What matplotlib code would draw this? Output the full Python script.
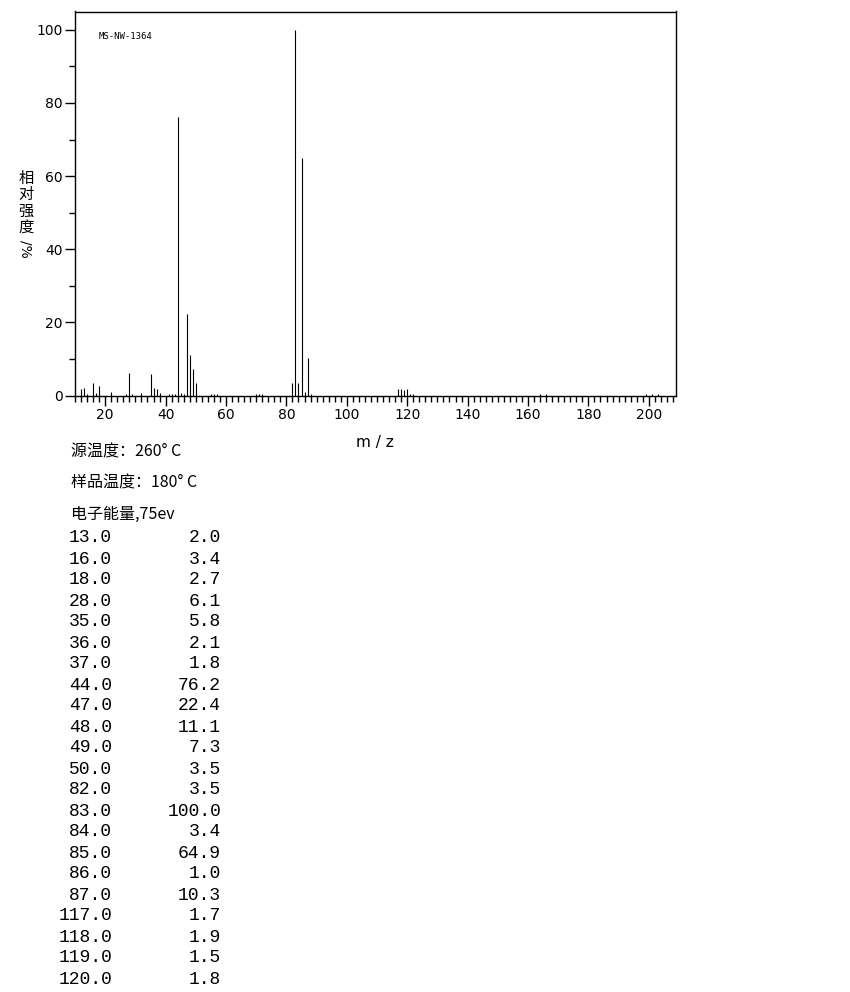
import matplotlib
matplotlib.use("Agg")
import matplotlib.pyplot as plt
from matplotlib.ticker import MultipleLocator

# peaks (m/z, relative intensity %)
mz = [12, 13, 14, 16, 17, 18, 22, 27, 28, 29, 32, 35, 36, 37, 38, 41, 42, 43,
      44, 45, 46, 47, 48, 49, 50, 55, 56, 57, 70, 71, 72, 82, 83, 84, 85, 86,
      87, 88, 117, 118, 119, 120, 121, 122, 164, 166, 199, 201, 203]
intensity = [1.9, 2.0, 0.4, 3.4, 0.6, 2.7, 0.9, 0.3, 6.1, 0.3, 0.6, 5.8, 2.1,
             1.8, 0.8, 0.3, 0.3, 0.3, 76.2, 0.8, 0.3, 22.4, 11.1, 7.3, 3.5,
             0.3, 0.3, 0.3, 0.5, 0.3, 0.3, 3.5, 100.0, 3.4, 64.9, 1.0, 10.3,
             0.3, 1.7, 1.9, 1.5, 1.8, 0.5, 0.5, 0.3, 0.3, 0.3, 0.3, 0.3]

# listed peak table
table_mz = ["13.0", "16.0", "18.0", "28.0", "35.0", "36.0", "37.0", "44.0",
            "47.0", "48.0", "49.0", "50.0", "82.0", "83.0", "84.0", "85.0",
            "86.0", "87.0", "117.0", "118.0", "119.0", "120.0"]
table_int = ["2.0", "3.4", "2.7", "6.1", "5.8", "2.1", "1.8", "76.2", "22.4",
             "11.1", "7.3", "3.5", "3.5", "100.0", "3.4", "64.9", "1.0", "10.3",
             "1.7", "1.9", "1.5", "1.8"]

header_lines = ["源温度：260° C", "样品温度：180° C", "电子能量,75ev"]
sample_id = "MS-NW-1364"

W, H = 850, 992
fig = plt.figure(figsize=(W / 100, H / 100), dpi=100)
fig.patch.set_facecolor("white")

def px(x, y):
    return x / W, 1 - y / H

ax_left, ax_right, ax_top, ax_bottom = 75, 676, 11.5, 395.5
ax = fig.add_axes([ax_left / W, 1 - ax_bottom / H,
                   (ax_right - ax_left) / W, (ax_bottom - ax_top) / H])

ax.vlines(mz, 0, intensity, colors="black", linewidth=0.8)

ax.set_xlim(10, 209)
ax.set_ylim(0, 105)
for s in ax.spines.values():
    s.set_linewidth(1.0)
    s.set_color("black")

ax.xaxis.set_major_locator(MultipleLocator(20))
ax.xaxis.set_minor_locator(MultipleLocator(2))
ax.yaxis.set_major_locator(MultipleLocator(20))
ax.yaxis.set_minor_locator(MultipleLocator(10))
ax.tick_params(axis="both", which="major", direction="out", length=7,
               width=1.0, labelsize=10, pad=2)
ax.tick_params(axis="both", which="minor", direction="out", length=4,
               width=1.0)
ax.set_xticks([t for t in range(20, 201, 20)])
ax.set_yticks([0, 20, 40, 60, 80, 100])

ax.text(0.04, 0.935, sample_id, transform=ax.transAxes, fontsize=6.5,
        family="DejaVu Sans Mono", va="center", ha="left")

# x label
fig.text(*px(375, 443), "m / z", fontsize=11, ha="center", va="center",
         family="DejaVu Sans")

# y label, stacked vertically
cjk = ["Noto Sans CJK SC", "DejaVu Sans"]
for i, ch in enumerate("相对强度"):
    fig.text(*px(26, 178 + i * 16.5), ch, fontsize=11, ha="center",
             va="center", family=cjk)
fig.text(*px(26, 249), "/%", fontsize=10, ha="center", va="center",
         rotation=-90, family="DejaVu Sans")

# header lines below the plot
for i, line in enumerate(header_lines):
    fig.text(*px(71, 452 + i * 31), line, fontsize=11.5, ha="left",
             va="center", family=cjk)

# peak table
for i, (m, v) in enumerate(zip(table_mz, table_int)):
    y = 538 + i * 21
    fig.text(*px(112, y), m, fontsize=13, ha="right", va="center",
             family="Liberation Mono")
    fig.text(*px(221, y), v, fontsize=13, ha="right", va="center",
             family="Liberation Mono")

fig.savefig("out.png", dpi=100, facecolor="white")
